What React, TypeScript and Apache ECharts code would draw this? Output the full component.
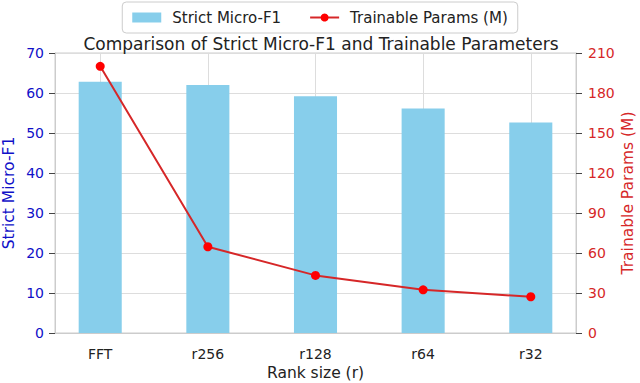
import React, { useEffect, useRef } from "react";
import * as echarts from "echarts";

const categories = ["FFT", "r256", "r128", "r64", "r32"];
const f1Values = [62.8, 62.0, 59.2, 56.1, 52.6];
const paramValues = [200, 64.7, 43.2, 32.4, 27.2];
const leftTicks = { min: 0, max: 70, interval: 10 };
const rightTicks = { min: 0, max: 210, interval: 30 };
const barWidthUnits = 0.4;

const BLUE = "#1010c8";
const RED = "#d62728";
const FONT = "DejaVu Sans";

export default function App() {
  const ref = useRef<HTMLDivElement>(null);
  useEffect(() => {
    if (!ref.current) return;
    const chart = echarts.init(ref.current, undefined, { renderer: "svg" });
    const idx = categories.map((_, i) => i);
    chart.setOption({
      animation: false,
      textStyle: { fontFamily: FONT },
      title: {
        text: "Comparison of Strict Micro-F1 and Trainable Parameters",
        left: 316,
        textAlign: "center",
        top: 30,
        textStyle: { fontFamily: FONT, fontSize: 17, fontWeight: "normal", color: "#222" },
      },
      legend: {
        top: 2,
        left: "center",
        padding: [8, 10, 8, 10],
        borderColor: "#cccccc",
        borderWidth: 1,
        borderRadius: 4,
        itemGap: 28,
        itemWidth: 29,
        itemHeight: 10,
        textStyle: { fontFamily: FONT, fontSize: 15, color: "#222", padding: [0, 0, 0, 6] },
        data: [
          { name: "Strict Micro-F1", icon: "rect" },
          { name: "Trainable Params (M)" },
        ],
      },
      grid: {
        left: 55,
        right: 64,
        top: 53,
        bottom: 50,
        containLabel: false,
        outerBoundsMode: "none",
        show: true,
        borderColor: "#cccccc",
        borderWidth: 1,
      },
      xAxis: {
        type: "value",
        min: -0.42,
        max: 4.42,
        name: "Rank size (r)",
        nameLocation: "middle",
        nameGap: 32,
        nameMoveOverlap: false,
        nameTextStyle: { fontFamily: FONT, fontSize: 15.5, color: "#222" },
        axisLine: { show: true, onZero: false, lineStyle: { color: "#cccccc" } },
        axisTick: { show: false, customValues: idx },
        axisLabel: {
          customValues: idx,
          formatter: (v: number) => categories[Math.round(v)] ?? "",
          fontSize: 14,
          color: "#222",
          margin: 14,
          fontFamily: FONT,
        },
        splitLine: { show: true, lineStyle: { color: "#dddddd", width: 1 } },
      },
      yAxis: [
        {
          type: "value",
          ...leftTicks,
          name: "Strict Micro-F1",
          nameLocation: "middle",
          nameGap: 38,
          nameMoveOverlap: false,
          nameTextStyle: { fontFamily: FONT, fontSize: 15.5, color: BLUE },
          axisLine: { show: true, onZero: false, lineStyle: { color: "#cccccc" } },
          axisTick: { show: true, length: 6, lineStyle: { color: "#444" } },
          axisLabel: { color: BLUE, fontSize: 14, margin: 11, fontFamily: FONT },
          splitLine: { show: true, lineStyle: { color: "#dddddd", width: 1 } },
        },
        {
          type: "value",
          ...rightTicks,
          position: "right",
          name: "Trainable Params (M)",
          nameLocation: "middle",
          nameGap: 44,
          nameMoveOverlap: false,
          nameTextStyle: { fontFamily: FONT, fontSize: 15.5, color: RED },
          axisLine: { show: true, onZero: false, lineStyle: { color: "#cccccc" } },
          axisTick: { show: true, length: 6, lineStyle: { color: "#444" } },
          axisLabel: { color: RED, fontSize: 14, margin: 12, fontFamily: FONT },
          splitLine: { show: false },
        },
      ],
      series: [
        {
          name: "Strict Micro-F1",
          type: "custom",
          yAxisIndex: 0,
          itemStyle: { color: "#87ceeb" },
          encode: { x: 0, y: 1 },
          data: f1Values.map((v, i) => [i, v]),
          renderItem: (params: any, api: any) => {
            const x = api.value(0);
            const y = api.value(1);
            const top = api.coord([x, y]);
            const base = api.coord([x, 0]);
            const w = api.size([barWidthUnits, 0])[0];
            return {
              type: "rect",
              shape: { x: top[0] - w / 2, y: top[1], width: w, height: base[1] - top[1] },
              style: { fill: "#87ceeb" },
            };
          },
          z: 2,
        },
        {
          name: "Trainable Params (M)",
          type: "line",
          yAxisIndex: 1,
          symbol: "circle",
          symbolSize: 9,
          itemStyle: { color: "#ff0000" },
          lineStyle: { color: RED, width: 2 },
          data: paramValues.map((v, i) => [i, v]),
          z: 3,
        },
      ],
    });
    return () => chart.dispose();
  }, []);
  return (
    <div
      ref={ref}
      style={{ position: "fixed", left: 0, top: 0, width: 640, height: 383, background: "#fff" }}
    />
  );
}
